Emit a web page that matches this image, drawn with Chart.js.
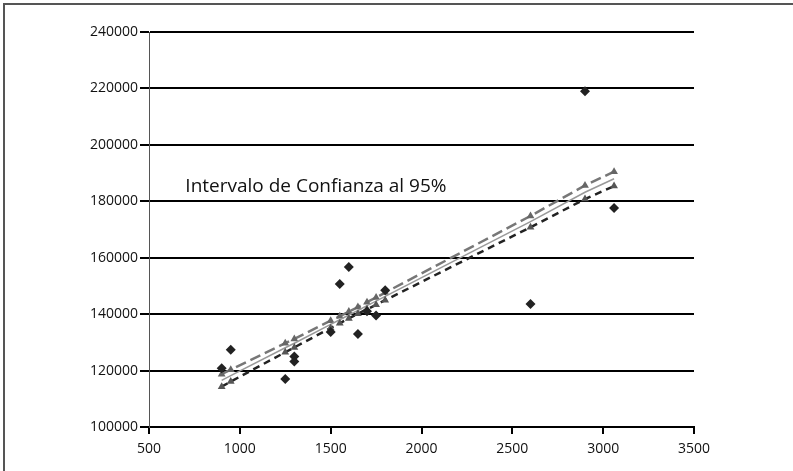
<!DOCTYPE html>
<html>
<head>
<meta charset="utf-8">
<script src="https://cdn.jsdelivr.net/npm/chart.js@4/dist/chart.umd.min.js"></script>
<style>
  html, body { margin: 0; padding: 0; background: #fff; }
  #wrap { position: relative; width: 793px; height: 471px; }
  #frame { position: absolute; left: 3px; top: 3px; width: 800px; height: 480px;
           border-left: 2px solid #555; border-top: 2px solid #555; box-sizing: border-box; }
  canvas { position: absolute; left: 0; top: 0; }
</style>
</head>
<body>
<div id="wrap">
  <div id="frame"></div>
  <canvas id="myChart" width="793" height="471"></canvas>
</div>
<script>
// observed values
const obsX = [900, 950, 1250, 1300, 1300, 1500, 1550, 1600, 1650, 1700, 1750, 1800, 2600, 2900, 3060];
const obsY = [120800, 127400, 117000, 125000, 123200, 133700, 150700, 156700, 133000, 141000, 139500, 148500, 143600, 219000, 177600];

// fitted line and 95% band, read at the same x values
const fitX = [900, 950, 1250, 1300, 1500, 1550, 1600, 1650, 1700, 1750, 1800, 2600, 2900, 3060];
const fitMid = [116500, 118200, 128100, 129700, 136400, 138000, 139700, 141300, 143000, 144600, 146300, 172800, 183200, 188000];
const fitUpper = [118700, 120300, 129700, 131200, 137700, 139250, 140900, 142500, 144250, 145900, 147650, 174800, 185600, 190500];
const fitLower = [114300, 116100, 126500, 128200, 135100, 136750, 138500, 140100, 141750, 143300, 144950, 170800, 180800, 185400];

const xTicks = [500, 1000, 1500, 2000, 2500, 3000, 3500];
const yTicks = [100000, 120000, 140000, 160000, 180000, 200000, 220000, 240000];
const label = "Intervalo de Confianza al 95%";

function pts(xs, ys) {
    return xs.map((x, i) => ({ x: x, y: ys[i] }));
}

const FONT = "'Open Sans', 'DejaVu Sans', sans-serif";

const labelPlugin = {
    id: 'bandLabel',
    afterDatasetsDraw(chart) {
        const ctx = chart.ctx;
        const px = chart.scales.x.getPixelForValue(700);
        const py = chart.scales.y.getPixelForValue(185200);
        ctx.save();
        ctx.font = "19px " + FONT;
        ctx.fillStyle = '#111';
        ctx.textBaseline = 'middle';
        ctx.fillText(label, px, py);
        ctx.restore();
    }
};

const chart = document.getElementById("myChart");

let scatter = new Chart(chart, {
    type: 'scatter',
    data: {
        datasets: [{
            label: 'upper',
            data: pts(fitX, fitUpper),
            showLine: true,
            borderColor: '#777',
            borderWidth: 2.5,
            borderDash: [11, 5],
            pointStyle: 'triangle',
            pointRadius: 4.5,
            pointBackgroundColor: '#666',
            pointBorderColor: '#666',
            pointBorderWidth: 0,
            order: 3
        },
        {
            label: 'fit',
            data: pts(fitX, fitMid),
            showLine: true,
            borderColor: '#999',
            borderWidth: 1.5,
            pointRadius: 0,
            order: 2
        },
        {
            label: 'lower',
            data: pts(fitX, fitLower),
            showLine: true,
            borderColor: '#222',
            borderWidth: 2.5,
            borderDash: [7, 5],
            pointStyle: 'triangle',
            pointRadius: 4.5,
            pointBackgroundColor: '#555',
            pointBorderColor: '#555',
            pointBorderWidth: 0,
            order: 1
        },
        {
            label: 'obs',
            data: pts(obsX, obsY),
            pointStyle: 'rectRot',
            pointRadius: 5,
            pointBackgroundColor: '#222',
            pointBorderColor: '#222',
            pointBorderWidth: 0,
            order: 0
        }]
    },
    options: {
        responsive: false,
        animation: false,
        layout: { padding: { left: 0, right: 99, top: 32, bottom: 0 } },
        plugins: {
            legend: { display: false },
            tooltip: { enabled: false }
        },
        scales: {
            x: {
                type: 'linear',
                min: 500,
                max: 3500,
                afterBuildTicks: (s) => { s.ticks = xTicks.map(v => ({ value: v })); },
                afterFit: (s) => { s.height = 44; },
                ticks: {
                    color: '#111',
                    font: { family: FONT, size: 14 },
                    padding: 7,
                    maxRotation: 0,
                    callback: (v) => String(v)
                },
                grid: {
                    drawOnChartArea: false,
                    drawTicks: true,
                    tickLength: 7,
                    color: '#000',
                    lineWidth: 2
                },
                border: { color: '#000', width: 2 }
            },
            y: {
                type: 'linear',
                min: 100000,
                max: 240000,
                afterBuildTicks: (s) => { s.ticks = yTicks.map(v => ({ value: v })); },
                afterFit: (s) => { s.width = 149; },
                ticks: {
                    color: '#111',
                    font: { family: FONT, size: 14 },
                    padding: 2,
                    callback: (v) => String(v)
                },
                grid: {
                    drawOnChartArea: true,
                    drawTicks: true,
                    tickLength: 9,
                    color: '#000',
                    lineWidth: 2
                },
                border: { color: '#555', width: 1 }
            }
        }
    },
    plugins: [labelPlugin]
});
</script>
</body>
</html>
